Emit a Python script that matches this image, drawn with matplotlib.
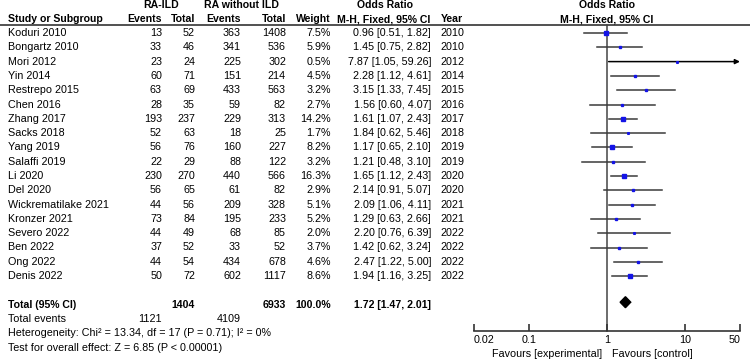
import numpy as np
import matplotlib
matplotlib.use("Agg")
import matplotlib.pyplot as plt
from matplotlib.patches import Polygon

plt.rcParams['font.family'] = ['Liberation Sans', 'DejaVu Sans']

studies = ["Koduri 2010", "Bongartz 2010", "Mori 2012", "Yin 2014", "Restrepo 2015",
           "Chen 2016", "Zhang 2017", "Sacks 2018", "Yang 2019", "Salaffi 2019",
           "Li 2020", "Del 2020", "Wickrematilake 2021", "Kronzer 2021",
           "Severo 2022", "Ben 2022", "Ong 2022", "Denis 2022"]
ev1 = [13, 33, 23, 60, 63, 28, 193, 52, 56, 22, 230, 56, 44, 73, 44, 37, 44, 50]
tot1 = [52, 46, 24, 71, 69, 35, 237, 63, 76, 29, 270, 65, 56, 84, 49, 52, 54, 72]
ev2 = [363, 341, 225, 151, 433, 59, 229, 18, 160, 88, 440, 61, 209, 195, 68, 33, 434, 602]
tot2 = [1408, 536, 302, 214, 563, 82, 313, 25, 227, 122, 566, 82, 328, 233, 85, 52, 678, 1117]
weights = [7.5, 5.9, 0.5, 4.5, 3.2, 2.7, 14.2, 1.7, 8.2, 3.2, 16.3, 2.9, 5.1, 5.2, 2.0, 3.7, 4.6, 8.6]
odds = [0.96, 1.45, 7.87, 2.28, 3.15, 1.56, 1.61, 1.84, 1.17, 1.21, 1.65, 2.14, 2.09, 1.29, 2.20, 1.42, 2.47, 1.94]
ci_lo = [0.51, 0.75, 1.05, 1.12, 1.33, 0.60, 1.07, 0.62, 0.65, 0.48, 1.12, 0.91, 1.06, 0.63, 0.76, 0.62, 1.22, 1.16]
ci_hi = [1.82, 2.82, 59.26, 4.61, 7.45, 4.07, 2.43, 5.46, 2.10, 3.10, 2.43, 5.07, 4.11, 2.66, 6.39, 3.24, 5.00, 3.25]
years = [2010, 2010, 2012, 2014, 2015, 2016, 2017, 2018, 2019, 2019, 2020, 2020, 2021, 2021, 2022, 2022, 2022, 2022]

total_n1, total_n2 = 1404, 6933
total_ev1, total_ev2 = 1121, 4109
pooled_or, pooled_lo, pooled_hi = 1.72, 1.47, 2.01
heterogeneity = "Heterogeneity: Chi\u00b2 = 13.34, df = 17 (P = 0.71); I\u00b2 = 0%"
overall = "Test for overall effect: Z = 6.85 (P < 0.00001)"
ticks = [0.02, 0.1, 1, 10, 50]
tick_labels = ["0.02", "0.1", "1", "10", "50"]
fav_left, fav_right = "Favours [experimental]", "Favours [control]"

W, H = 750, 359
fig = plt.figure(figsize=(W / 100, H / 100), dpi=100)
ax = fig.add_axes([0, 0, 1, 1])
ax.set_xlim(0, W)
ax.set_ylim(H, 0)
ax.axis('off')

fs = 7.6
fsn = 7.75
y0, dy = 33, 14.3
rows = y0 + dy * np.arange(len(studies))
y_total = rows[-1] + 2 * dy
y_tev = y_total + dy
y_het = y_tev + dy
y_test = y_het + dy
h1, h2 = 5.5, 19

# columns (layout)
c_study, c_e1, c_t1, c_e2, c_t2, c_w, c_ci, c_yr = 8, 162, 195, 241, 286, 331, 431, 452

bold = dict(fontsize=fs, fontweight='bold', va='center')
norm = dict(fontsize=fsn, va='center')

ax.text(161, h1, "RA-ILD", ha='center', **bold)
ax.text(241, h1, "RA without ILD", ha='center', **bold)
ax.text(385, h1, "Odds Ratio", ha='center', **bold)
ax.text(c_study, h2, "Study or Subgroup", ha='left', **bold)
ax.text(c_e1, h2, "Events", ha='right', **bold)
ax.text(c_t1, h2, "Total", ha='right', **bold)
ax.text(c_e2, h2, "Events", ha='right', **bold)
ax.text(c_t2, h2, "Total", ha='right', **bold)
ax.text(c_w, h2, "Weight", ha='right', **bold)
ax.text(384, h2, "M-H, Fixed, 95% CI", ha='center', **bold)
ax.text(c_yr, h2, "Year", ha='center', **bold)
ax.text(607, h1, "Odds Ratio", ha='center', **bold)
ax.text(607, h2, "M-H, Fixed, 95% CI", ha='center', **bold)
ax.axhline(24.5, color='#222222', lw=1.1)

for i, y in enumerate(rows):
    ax.text(c_study, y, studies[i], ha='left', **norm)
    ax.text(c_e1, y, str(ev1[i]), ha='right', **norm)
    ax.text(c_t1, y, str(tot1[i]), ha='right', **norm)
    ax.text(c_e2, y, str(ev2[i]), ha='right', **norm)
    ax.text(c_t2, y, str(tot2[i]), ha='right', **norm)
    ax.text(c_w, y, f"{weights[i]:.1f}%", ha='right', **norm)
    ax.text(c_ci, y, f"{odds[i]:.2f} [{ci_lo[i]:.2f}, {ci_hi[i]:.2f}]", ha='right', **norm)
    ax.text(c_yr, y, str(years[i]), ha='center', **norm)

ax.text(c_study, y_total, "Total (95% CI)", ha='left', **bold)
ax.text(c_t1, y_total, str(total_n1), ha='right', **bold)
ax.text(c_t2, y_total, str(total_n2), ha='right', **bold)
ax.text(c_w, y_total, f"{100.0:.1f}%", ha='right', **bold)
ax.text(c_ci, y_total, f"{pooled_or:.2f} [{pooled_lo:.2f}, {pooled_hi:.2f}]", ha='right', **bold)
ax.text(c_study, y_tev, "Total events", ha='left', **norm)
ax.text(c_e1, y_tev, str(total_ev1), ha='right', **norm)
ax.text(c_e2, y_tev, str(total_ev2), ha='right', **norm)
ax.text(c_study, y_het, heterogeneity, ha='left', **norm)
ax.text(c_study, y_test, overall, ha='left', **norm)

# forest panel
x_left, x_right = 474, 740
fx = fig.add_axes([x_left / W, 0, (x_right - x_left) / W, 1])
fx.set_xscale('log')
fx.set_xlim(ticks[0], ticks[-1])
fx.set_ylim(H, 0)
fx.patch.set_alpha(0)
for s in ['left', 'right', 'top']:
    fx.spines[s].set_visible(False)
y_axis = 331
fx.spines['bottom'].set_position(('data', y_axis))
fx.spines['bottom'].set_color('#333333')
fx.spines['bottom'].set_linewidth(1.2)
fx.set_yticks([])
fx.set_xticks(ticks)
fx.set_xticklabels(tick_labels)
fx.minorticks_off()
fx.tick_params(axis='x', direction='in', length=5, width=1.2, color='#333333',
               labelsize=fsn, pad=3)
tls = fx.get_xticklabels()
tls[0].set_horizontalalignment('left')
tls[-1].set_horizontalalignment('right')

fx.plot([1, 1], [24.5, y_axis], color='#444444', lw=1.1, zorder=1)

line_c = '#3a3a3a'
for i, y in enumerate(rows):
    if ci_hi[i] > ticks[-1]:
        fx.annotate("", xy=(ticks[-1], y), xytext=(ci_lo[i], y),
                    arrowprops=dict(arrowstyle='-|>', color='black', lw=1.1,
                                    mutation_scale=7, shrinkA=0, shrinkB=0))
    else:
        fx.plot([ci_lo[i], ci_hi[i]], [y, y], color=line_c, lw=1.1, zorder=2)
    ms = max(1.2, 0.85 * np.sqrt(weights[i]))
    fx.plot(odds[i], y, marker='s', ms=ms, color='#1414e6', mec='#1414e6', zorder=3)

dh = 5.5
diamond = Polygon([(pooled_lo, y_total - 2.5), (pooled_or, y_total - 2.5 - dh),
                   (pooled_hi, y_total - 2.5), (pooled_or, y_total - 2.5 + dh)],
                  closed=True, color='black', zorder=3)
fx.add_patch(diamond)

y_fav = 354
fx.annotate(fav_left, xy=(1, y_fav), xytext=(-5, 0), textcoords='offset pixels',
            ha='right', va='center', fontsize=fsn)
fx.annotate(fav_right, xy=(1, y_fav), xytext=(5, 0), textcoords='offset pixels',
            ha='left', va='center', fontsize=fsn)

fig.savefig("out.png", dpi=100)
